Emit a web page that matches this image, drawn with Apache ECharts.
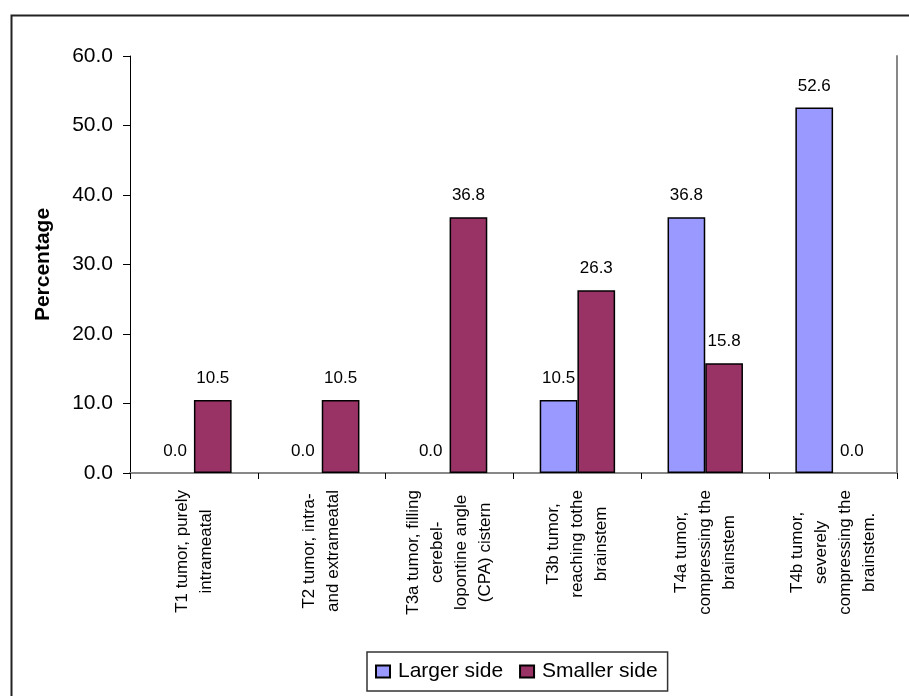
<!DOCTYPE html>
<html>
<head>
<meta charset="utf-8">
<script src="https://cdn.jsdelivr.net/npm/echarts@6/dist/echarts.min.js"></script>
<style>
  html, body { margin: 0; padding: 0; background: #fff; }
  #chart { width: 909px; height: 696px; }
</style>
</head>
<body>
<div id="chart"></div>
<script>
// Tumour stage categories (one entry per line of the axis label)
const stageLabels = [
  ["T1 tumor, purely", "intrameatal"],
  ["T2 tumor, intra-", "and extrameatal"],
  ["T3a tumor, filling", "cerebel-", "lopontine angle", "(CPA) cistern"],
  ["T3b tumor,", "reaching tothe", "brainstem"],
  ["T4a tumor,", "compressing the", "brainstem"],
  ["T4b tumor,", "severely", "compressing the", "brainstem."]
];

// Percentage of cases per side
const largerSide = [0.0, 0.0, 0.0, 10.5, 36.8, 52.6];
const smallerSide = [10.5, 10.5, 36.8, 26.3, 15.8, 0.0];

const seriesNames = ["Larger side", "Smaller side"];
const yAxisTitle = "Percentage";
const yMin = 0, yMax = 60, yStep = 10;

const FONT = 'Arial, "Liberation Sans", sans-serif';

const chart = echarts.init(document.getElementById('chart'), null, { renderer: 'canvas' });

const valueLabel = {
  show: true,
  position: 'top',
  distance: 13,
  color: '#000',
  fontFamily: FONT,
  fontSize: 17,
  formatter: p => p.value.toFixed(1)
};

// zero-height bars get no outline so the baseline stays clean
const barData = values => values.map(v => (v === 0 ? { value: v, itemStyle: { borderWidth: 0 } } : v));

chart.setOption({
  animation: false,
  backgroundColor: '#fff',
  graphic: [{
    type: 'rect',
    left: 9, top: 13,
    shape: { width: 1000, height: 1000 },
    style: { fill: 'none', stroke: '#222', lineWidth: 2 },
    silent: true
  }],
  grid: { left: 130, top: 56, right: 12, bottom: 223 },
  legend: {
    data: seriesNames,
    left: 367, top: 652,
    orient: 'horizontal',
    padding: [9, 10, 9, 8],
    itemGap: 16,
    itemWidth: 14,
    itemHeight: 12,
    borderColor: '#333',
    borderWidth: 1.5,
    borderRadius: 0,
    icon: 'rect',
    textStyle: { fontFamily: FONT, fontSize: 21, color: '#000', padding: [0, 0, 0, 3] }
  },
  xAxis: [{
    type: 'category',
    data: stageLabels.map(l => l.join('\n')),
    boundaryGap: true,
    axisLine: { lineStyle: { color: '#000', width: 1 } },
    axisTick: { show: true, length: 6, lineStyle: { color: '#000' } },
    axisLabel: {
      interval: 0,
      rotate: 90,
      align: 'right',
      verticalAlign: 'middle',
      margin: 17,
      formatter: v => v.split('\n').map(s => '{c|' + s + '}').join('\n'),
      rich: {
        c: { align: 'center', fontFamily: FONT, fontSize: 17, lineHeight: 24, color: '#000' }
      }
    },
    splitLine: { show: false }
  }, {
    type: 'category',
    position: 'top',
    data: stageLabels.map(l => l.join('\n')),
    axisLine: { lineStyle: { color: '#888', width: 2 } },
    axisTick: { show: false },
    axisLabel: { show: false }
  }],
  yAxis: [{
    type: 'value',
    min: yMin, max: yMax, interval: yStep,
    name: yAxisTitle,
    nameLocation: 'middle',
    nameGap: 76,
    nameTextStyle: { fontFamily: FONT, fontSize: 21, fontWeight: 'bold', color: '#000' },
    axisLine: { show: true, lineStyle: { color: '#000', width: 1 } },
    axisTick: { show: true, length: 7, lineStyle: { color: '#000' } },
    axisLabel: {
      margin: 17,
      fontFamily: FONT, fontSize: 21, color: '#000',
      formatter: v => v.toFixed(1)
    },
    splitLine: { show: false }
  }, {
    type: 'value',
    position: 'right',
    min: yMin, max: yMax, interval: yStep,
    axisLine: { show: true, lineStyle: { color: '#888', width: 2 } },
    axisTick: { show: false },
    axisLabel: { show: false },
    splitLine: { show: false }
  }],
  series: [{
    name: seriesNames[0],
    type: 'bar',
    data: barData(largerSide),
    barGap: '0%',
    barCategoryGap: '41%',
    itemStyle: { color: '#9999FF', borderColor: '#000', borderWidth: 1.5 },
    label: valueLabel
  }, {
    name: seriesNames[1],
    type: 'bar',
    data: barData(smallerSide),
    barGap: '0%',
    barCategoryGap: '41%',
    itemStyle: { color: '#993366', borderColor: '#000', borderWidth: 1.5 },
    label: valueLabel
  }]
});
</script>
</body>
</html>
